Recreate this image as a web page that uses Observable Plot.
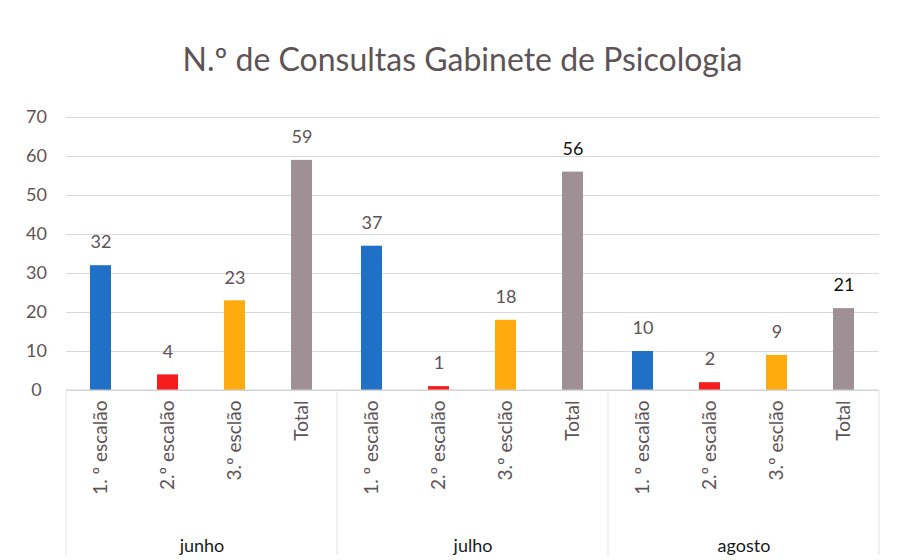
<!DOCTYPE html>
<html>
<head>
<meta charset="utf-8">
<script src="https://cdn.jsdelivr.net/npm/d3@7"></script>
<script src="https://cdn.jsdelivr.net/npm/@observablehq/plot@0.6"></script>
<style>
  html, body { margin: 0; padding: 0; background: #fff; }
  #wrap { width: 903px; height: 560px; position: relative; font-family: Lato, "Open Sans", sans-serif; }
  #title { height: 100px; box-sizing: border-box; padding-top: 40px; text-align: center; font-size: 32px; line-height: 38px; color: #5e5356; padding-left: 22px; }
</style>
</head>
<body>
<div id="wrap">
  <div id="title">N.º de Consultas Gabinete de Psicologia</div>
  <div id="chart"></div>
</div>
<script>
const months = ["junho", "julho", "agosto"];
const categories = ["1. º escalão", "2.º escalão", "3.º esclão", "Total"];
const junho = [32, 4, 23, 59];
const julho = [37, 1, 18, 56];
const agosto = [10, 2, 9, 21];
const yTicks = [0, 10, 20, 30, 40, 50, 60, 70];
const colors = ["#2170c8", "#f51d1d", "#ffab0f", "#9f9095"];
const labelColors = [
  ["#5e5356", "#5e5356", "#5e5356", "#5e5356"],
  ["#5e5356", "#5e5356", "#5e5356", "#111111"],
  ["#5e5356", "#5e5356", "#5e5356", "#111111"]
];

const series = [junho, julho, agosto];
const data = [];
months.forEach((m, i) => categories.forEach((c, j) => {
  data.push({month: m, cat: c, value: series[i][j], labelColor: labelColors[i][j], bold: labelColors[i][j] === "#111111"});
}));

const chart = Plot.plot({
  width: 903,
  height: 460,
  marginTop: 17,
  marginBottom: 170,
  marginLeft: 65,
  marginRight: 23,
  style: {fontFamily: "Lato, 'Open Sans', sans-serif", background: "#fff"},
  fx: {domain: months, padding: 0, label: null},
  x: {domain: categories, paddingInner: 0.68, paddingOuter: 0.34, label: null},
  y: {domain: [0, 70], label: null},
  color: {domain: categories, range: colors},
  marks: [
    Plot.gridY(yTicks, {stroke: "#d9d9d9", strokeOpacity: 1, facet: "exclude"}),
    Plot.axisY(yTicks, {tickSize: 0, tickPadding: 30, fontSize: 18, fill: "#5e5356", label: null, textAnchor: "middle", dx: 0}),
    Plot.barY(data, {fx: "month", x: "cat", y: "value", fill: "cat"}),
    Plot.text(data, {fx: "month", x: "cat", y: "value", text: d => String(d.value), dy: -23, fontSize: 18, fill: "labelColor", fontWeight: d => d.bold ? "bold" : "normal"}),
    Plot.axisX({anchor: "bottom", tickSize: 0, tickPadding: 10, tickRotate: -90, fontSize: 19, fill: "#5e5356", label: null}),
    Plot.axisFx({anchor: "bottom", tickSize: 0, dy: 140, fontSize: 18, fill: "#1a1a1a", label: null})
  ]
});

document.getElementById("chart").appendChild(chart);

// group separators, positioned by the fx scale
const fx = chart.scale("fx");
const yS = chart.scale("y");
const svg = d3.select(chart);
const y0 = yS.apply(0);
const bounds = months.map(m => fx.apply(m)).concat([fx.apply(months[months.length - 1]) + fx.bandwidth]);
svg.append("line")
  .attr("x1", bounds[0]).attr("x2", bounds[bounds.length - 1])
  .attr("y1", y0).attr("y2", y0)
  .attr("stroke", "#d0d0d0");
bounds.forEach(b => {
  svg.append("line")
    .attr("x1", b).attr("x2", b)
    .attr("y1", y0).attr("y2", 455)
    .attr("stroke", "#e3e3e3");
});
</script>
</body>
</html>
